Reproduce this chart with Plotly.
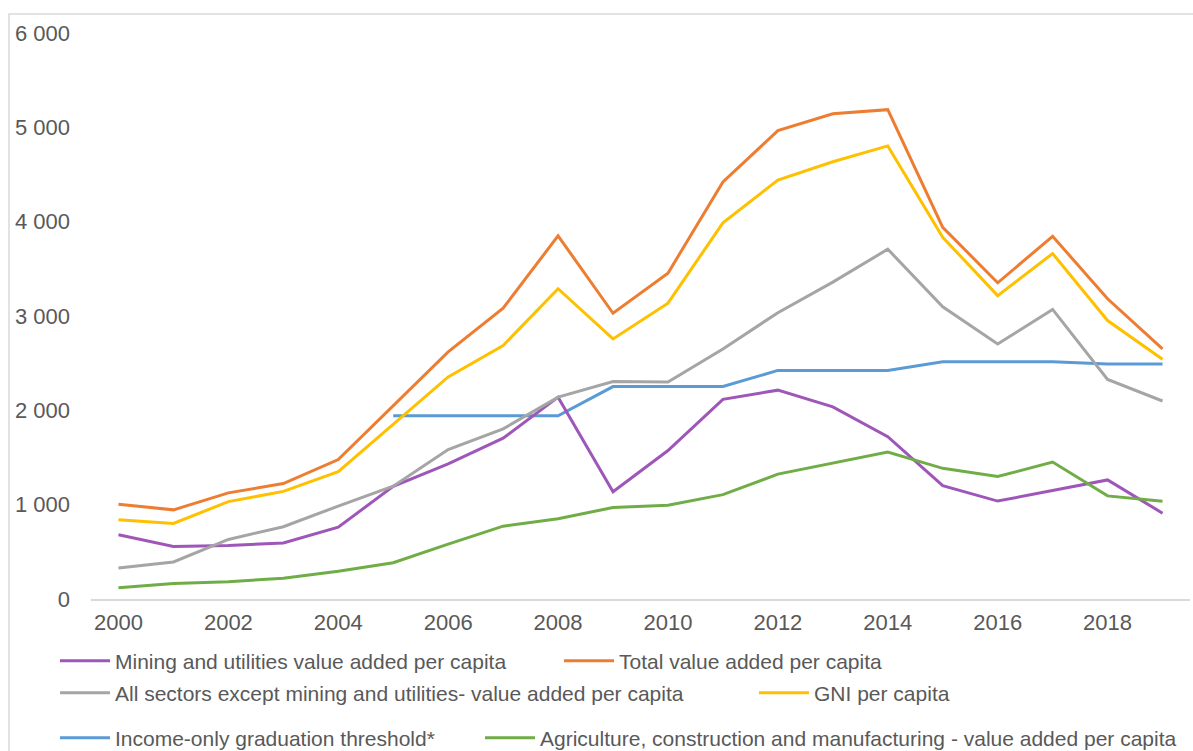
import plotly.graph_objects as go

# Annual series, USD per capita
years = list(range(2000, 2020))

mining_utilities = [682, 557, 567, 593, 761, 1195, 1433, 1705, 2140, 1137,
                    1574, 2117, 2214, 2036, 1721, 1202, 1038, 1147, 1262, 910]
total_va = [1005, 945, 1125, 1224, 1478, 2045, 2619, 3083, 3850, 3029,
            3454, 4421, 4965, 5143, 5187, 3940, 3352, 3845, 3183, 2652]
non_mining = [328, 393, 631, 766, 985, 1195, 1584, 1803, 2140, 2306,
              2300, 2651, 3035, 3359, 3708, 3098, 2703, 3070, 2327, 2099]
gni = [840, 801, 1032, 1141, 1349, 1850, 2354, 2687, 3289, 2757,
       3136, 3988, 4442, 4635, 4803, 3835, 3216, 3662, 2952, 2541]
threshold_years = list(range(2005, 2020))
income_threshold = [1942, 1942, 1942, 1942, 2252, 2252, 2252, 2423, 2423, 2423,
                    2514, 2514, 2514, 2491, 2491]
agri_constr_manuf = [119, 164, 184, 219, 294, 384, 582, 772, 851, 970,
                     995, 1106, 1324, 1442, 1558, 1385, 1298, 1452, 1093, 1036]

x_ticks = list(range(2000, 2019, 2))
y_ticks = [0, 1000, 2000, 3000, 4000, 5000, 6000]

# Canvas and plot-area geometry (pixels)
W, H = 1193, 751
L, R, T, B = 91, 1190, 33, 599

def px_x(px):
    return (px - L) / (R - L)

def px_y(py):
    return (B - py) / (B - T)

TEXT = "#595959"
FONT = "Liberation Sans, Arial, sans-serif"

series = [
    ("Mining and utilities value added per capita", years, mining_utilities, "#9E57B9", "legend"),
    ("Total value added per capita", years, total_va, "#ED7D31", "legend2"),
    ("All sectors except mining and utilities- value added per capita", years, non_mining, "#A5A5A5", "legend3"),
    ("GNI per capita", years, gni, "#FFC000", "legend4"),
    ("Income-only graduation threshold*", threshold_years, income_threshold, "#5B9BD5", "legend5"),
    ("Agriculture, construction and manufacturing - value added per capita", years, agri_constr_manuf, "#70AD47", "legend6"),
]

# draw order: later traces on top
draw_order = [4, 0, 2, 3, 1, 5]

fig = go.Figure()
for i in draw_order:
    name, xs, ys, color, leg = series[i]
    fig.add_trace(go.Scatter(
        x=xs, y=ys, name=name, mode="lines",
        line=dict(color=color, width=3),
        legend=leg,
    ))

# legend item positions: (left px, centre y px)
legend_pos = {
    "legend": (55, 661),
    "legend2": (559, 661),
    "legend3": (55, 693),
    "legend4": (754, 693),
    "legend5": (55, 738),
    "legend6": (480, 738),
}

legend_layout = {}
for key, (lx, ly) in legend_pos.items():
    legend_layout[key] = dict(
        x=px_x(lx), y=px_y(ly), xanchor="left", yanchor="middle",
        orientation="h", bgcolor="rgba(0,0,0,0)", borderwidth=0,
        font=dict(family=FONT, size=21, color=TEXT),
        itemwidth=50,
    )

fig.update_layout(
    width=W, height=H,
    margin=dict(l=L, r=W - R, t=T, b=H - B, pad=0, autoexpand=False),
    paper_bgcolor="white", plot_bgcolor="white",
    separators=". ",
    showlegend=True,
    font=dict(family=FONT, color=TEXT),
    xaxis=dict(
        range=[1999.5, 2019.5],
        tickmode="array", tickvals=x_ticks,
        ticktext=[str(v) for v in x_ticks],
        showgrid=False, zeroline=False,
        showline=True, linecolor="#D9D9D9", linewidth=1.5,
        ticks="", ticklabelstandoff=3,
        tickfont=dict(family=FONT, size=22, color=TEXT),
    ),
    yaxis=dict(
        range=[0, 6000],
        tickmode="array", tickvals=y_ticks,
        tickformat=",d",
        showgrid=False, zeroline=False, showline=False,
        ticks="", ticklabelstandoff=20,
        tickfont=dict(family=FONT, size=22, color=TEXT),
    ),
    shapes=[dict(
        type="rect", xref="paper", yref="paper", layer="below",
        x0=px_x(9), x1=px_x(1230), y0=px_y(790), y1=px_y(14),
        line=dict(color="#D9D9D9", width=1.5), fillcolor="rgba(0,0,0,0)",
    )],
    **legend_layout,
)

fig.write_html("out.html")
